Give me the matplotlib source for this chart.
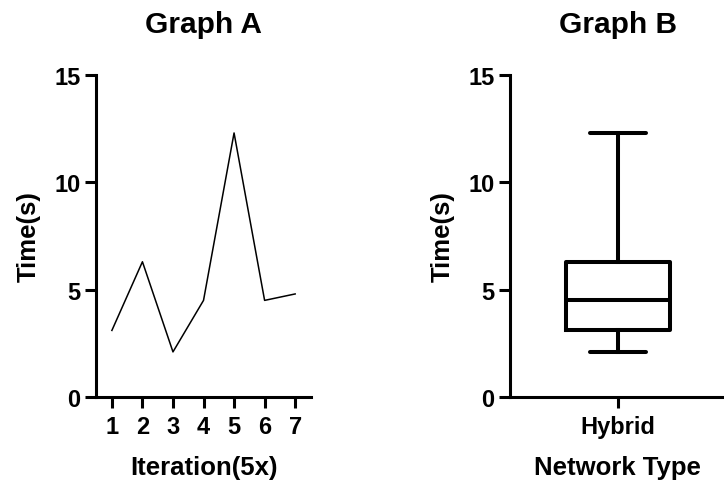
import matplotlib.pyplot as plt
import numpy as np

plt.rcParams['font.family'] = ['Liberation Sans', 'DejaVu Sans']
plt.rcParams['font.weight'] = 'bold'

iterations = [1, 2, 3, 4, 5, 6, 7]
times = [3.1, 6.3, 2.1, 4.5, 12.3, 4.5, 4.8]
group = 'Hybrid'

fig = plt.figure(figsize=(7.24, 4.81), dpi=100)
ax1 = fig.add_axes([0.1326, 0.1726, 0.297, 0.6694])
ax2 = fig.add_axes([0.7044, 0.1726, 0.298, 0.6694])

def style(ax):
    for s in ['top', 'right']:
        ax.spines[s].set_visible(False)
    for s in ['left', 'bottom']:
        ax.spines[s].set_linewidth(2.2)
    ax.tick_params(width=2.2, length=8, labelsize=17, pad=3)
    ax.tick_params(axis='x', pad=5)
    ax.set_ylim(0, 15)
    ax.set_yticks([0, 5, 10, 15])
    for lab in ax.get_xticklabels() + ax.get_yticklabels():
        lab.set_fontweight('bold')
    ax.set_ylabel('Time(s)', fontsize=18.5, fontweight='bold', labelpad=10)

# Graph A
ax1.plot(iterations, times, color='black', linewidth=1.1)
ax1.set_xlim(0.48, 7.52)
ax1.set_xticks(iterations)
style(ax1)
ax1.set_xlabel('Iteration(5x)', fontsize=18.5, fontweight='bold', labelpad=12)
ax1.set_title('Graph A', fontsize=21.5, fontweight='bold', pad=31)

# Graph B: box with whiskers min-max, quartiles like Prism
q1, med, q3 = np.percentile(times, [25, 50, 75], method='weibull')
stats = [dict(med=med, q1=q1, q3=q3, whislo=min(times), whishi=max(times),
              fliers=[], label=group)]
lw = 2.9
ax2.bxp(stats, positions=[1], widths=0.97, showfliers=False,
        boxprops=dict(linewidth=lw, color='black'),
        medianprops=dict(linewidth=lw, color='black'),
        whiskerprops=dict(linewidth=lw, color='black'),
        capprops=dict(linewidth=lw, color='black', solid_capstyle='round'),
        capwidths=0.52)
ax2.set_xlim(0, 2)
style(ax2)
ax2.set_xticks([1])
ax2.set_xticklabels([group], fontweight='bold')
ax2.set_xlabel('Network Type', fontsize=18.5, fontweight='bold', labelpad=12)
ax2.set_title('Graph B', fontsize=21.5, fontweight='bold', pad=31)

fig.savefig('out.png', dpi=100)
